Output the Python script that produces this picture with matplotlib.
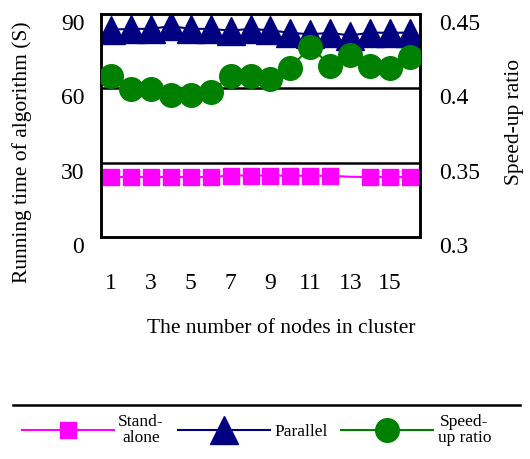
import matplotlib.pyplot as plt
from matplotlib.lines import Line2D

plt.rcParams['font.family'] = ['Liberation Serif', 'DejaVu Serif']

# data
nodes = list(range(1, 17))
tick_labels = ['1', '3', '5', '7', '9', '11', '13', '15']
standalone = [24.3, 24.2, 24.2, 24.2, 24.2, 24.2, 24.8, 24.8,
              24.8, 24.7, 24.7, 24.7, 24.3, 24.2, 24.2, 24.2]
parallel = [83.7, 84.0, 84.0, 85.1, 84.0, 84.0, 83.3, 84.0,
            83.4, 82.4, 81.8, 82.4, 81.3, 82.5, 82.4, 82.5]
speedup = [0.408, 0.3995, 0.3995, 0.3956, 0.3956, 0.3978, 0.408, 0.408,
           0.4066, 0.4138, 0.4281, 0.4153, 0.4226, 0.4153, 0.4138, 0.4209]

fig = plt.figure(figsize=(5.3, 4.59), dpi=100)
ax = fig.add_axes([0.1906, 0.4837, 0.6019, 0.4858])
ax2 = ax.twinx()

l1, = ax.plot(nodes, standalone, color='#ff00ff', lw=1.5, marker='s', ms=11,
              markevery=[i for i in range(16) if i != 12], zorder=3)
l2, = ax.plot(nodes, parallel, color='#000080', lw=1.5, marker='^', ms=20, zorder=4)
l3, = ax2.plot(nodes, speedup, color='#008000', lw=1.5, marker='o', ms=17, zorder=3)

ax.set_xlim(0.5, 16.5)
ax.set_ylim(0, 90)
ax2.set_ylim(0.3, 0.45)
ax.set_xticks(range(1, 17, 2))
ax.set_xticklabels(tick_labels)
ax.set_yticks([0, 30, 60, 90])
ax2.set_yticks([0.3, 0.35, 0.4, 0.45])
ax2.set_yticklabels(['0.3', '0.35', '0.4', '0.45'])

ax.tick_params(axis='both', length=0, labelsize=17)
ax.tick_params(axis='x', pad=26)
ax.tick_params(axis='y', pad=12)
ax2.tick_params(axis='y', length=0, labelsize=17, pad=14)
plt.setp(ax.get_yticklabels(), va='top')
plt.setp(ax2.get_yticklabels(), va='top')

for y in [30, 60]:
    ax.axhline(y, color='black', lw=1.8, zorder=1)
for a in (ax, ax2):
    for s in a.spines.values():
        s.set_linewidth(1.8)

ax.set_xlabel('The number of nodes in cluster', fontsize=15.5)
ax.xaxis.set_label_coords(0.564, -0.37)
ax.set_ylabel('Running time of algorithm (S)', fontsize=15.5)
ax.yaxis.set_label_coords(-0.216, 0.381)
ax2.set_ylabel('Speed-up ratio', fontsize=15.5)
ax2.yaxis.set_label_coords(1.266, 0.516)

# separator line above the legend
fig.add_artist(Line2D([0.0245, 0.981], [0.1176, 0.1176], color='black', lw=1.8,
                      transform=fig.transFigure))

leg = fig.legend([l1, l2, l3], ['Stand-\nalone', 'Parallel', 'Speed-\nup ratio'],
                 loc='center', bbox_to_anchor=(0.484, 0.063), ncol=3, frameon=False,
                 fontsize=12.5, handlelength=5.3, handletextpad=0.25,
                 columnspacing=0.8, markerscale=1.0)
for t in leg.get_texts():
    t.set_linespacing(1.0)
    t.set_multialignment('center')

fig.savefig('out.png', dpi=100)
